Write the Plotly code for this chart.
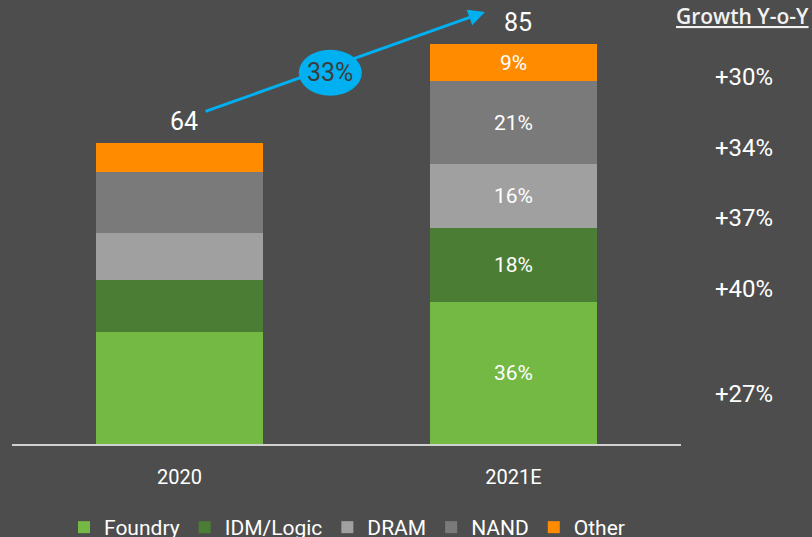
import plotly.graph_objects as go

years = ["2020", "2021E"]
segments = ["Foundry", "IDM/Logic", "DRAM", "NAND", "Other"]
foundry = [23.9, 30.25]
idm_logic = [11.0, 15.55]
dram = [10.0, 13.6]
nand = [13.0, 17.7]
other = [6.1, 7.9]
share_2021 = ["36%", "18%", "16%", "21%", "9%"]
totals = ["64", "85"]
growth_labels = ["+27%", "+40%", "+37%", "+34%", "+30%"]
cagr_label = "33%"

colors = ["#74b944", "#4b7d34", "#a0a0a0", "#7a7a7a", "#ff8c00"]
series = [foundry, idm_logic, dram, nand, other]

BG = "#4d4d4d"
FONT = "Roboto"

# plot geometry (pixels)
L, R, T, B = 12, 131, 10, 93
W, H = 812, 537
PH = H - T - B
PW = W - L - R

def px_to_py(ypx):
    return (H - B - ypx) / PH

def px_to_px(xpx):
    return (xpx - L) / PW

fig = go.Figure()
for name, vals, col, sh in zip(segments, series, colors, share_2021):
    fig.add_trace(go.Bar(
        x=[0, 1], y=vals, name=name, marker=dict(color=col, line=dict(width=0)),
        text=["", sh], textposition="inside", insidetextanchor="middle", textangle=0,
        textfont=dict(color="white", size=21, family=FONT),
        hoverinfo="skip",
    ))

annotations = []
stack_tops = [sum(s[i] for s in series) for i in range(2)]
for i in range(2):
    annotations.append(dict(
        x=i, y=stack_tops[i], xref="x", yref="y", text=totals[i], showarrow=False,
        yanchor="middle", yshift=21, xshift=4,
        font=dict(color="white", size=25, family=FONT)))

growth_px = [394, 289, 218, 147.5, 77]
for lab, gy in zip(growth_labels, growth_px):
    annotations.append(dict(
        x=px_to_px(744), y=px_to_py(gy), xref="paper", yref="paper", text=lab,
        showarrow=False, xanchor="center", yanchor="middle",
        font=dict(color="white", size=24, family=FONT)))

annotations.append(dict(
    x=px_to_px(674), y=px_to_py(16), xref="paper", yref="paper", text="Growth Y-o-Y",
    showarrow=False, xanchor="left", yanchor="middle",
    font=dict(color="#f2f2f2", size=21, family="Open Sans", weight=600, lineposition="under")))

# CAGR arrow
annotations.append(dict(
    x=0.9147, y=91.8, ax=0.0734, ay=70.55, xref="x", yref="y", axref="x", ayref="y",
    text="", showarrow=True, arrowhead=2, arrowsize=1.1, arrowwidth=3,
    arrowcolor="#00b0f0", standoff=0, startstandoff=0))
annotations.append(dict(
    x=0.4506, y=79.0, xref="x", yref="y", text=cagr_label, showarrow=False,
    font=dict(color="#3c3c3c", size=25, family=FONT)))

fig.add_shape(type="circle", xref="x", yref="y", x0=0.357, x1=0.546, y0=74.0, y1=83.8,
              fillcolor="#00b0f0", line=dict(width=0), layer="above")

fig.update_layout(
    width=W, height=H,
    margin=dict(l=L, r=R, t=T, b=B, pad=0, autoexpand=False),
    paper_bgcolor=BG, plot_bgcolor=BG,
    barmode="stack", bargap=0.5,
    showlegend=True,
    legend=dict(orientation="h", x=px_to_px(64), xanchor="left",
                y=px_to_py(507), yanchor="top",
                font=dict(color="white", size=21, family=FONT),
                bgcolor="rgba(0,0,0,0)", itemclick=False, traceorder="normal"),
    annotations=annotations,
    font=dict(family=FONT, color="white"),
)

fig.update_xaxes(range=[-0.5015, 1.5015], tickmode="array", tickvals=[0, 1], ticktext=years,
                 showgrid=False, zeroline=False, showline=True, linecolor="#d0d0d0", linewidth=2,
                 ticks="", ticklabelstandoff=14,
                 tickfont=dict(color="white", size=20, family=FONT), fixedrange=True)
fig.update_yaxes(range=[0, PH / 4.706], visible=False, showgrid=False, zeroline=False,
                 fixedrange=True)

fig.write_html("out.html", config={"displayModeBar": False},
               post_script="document.body.style.margin='0';")
